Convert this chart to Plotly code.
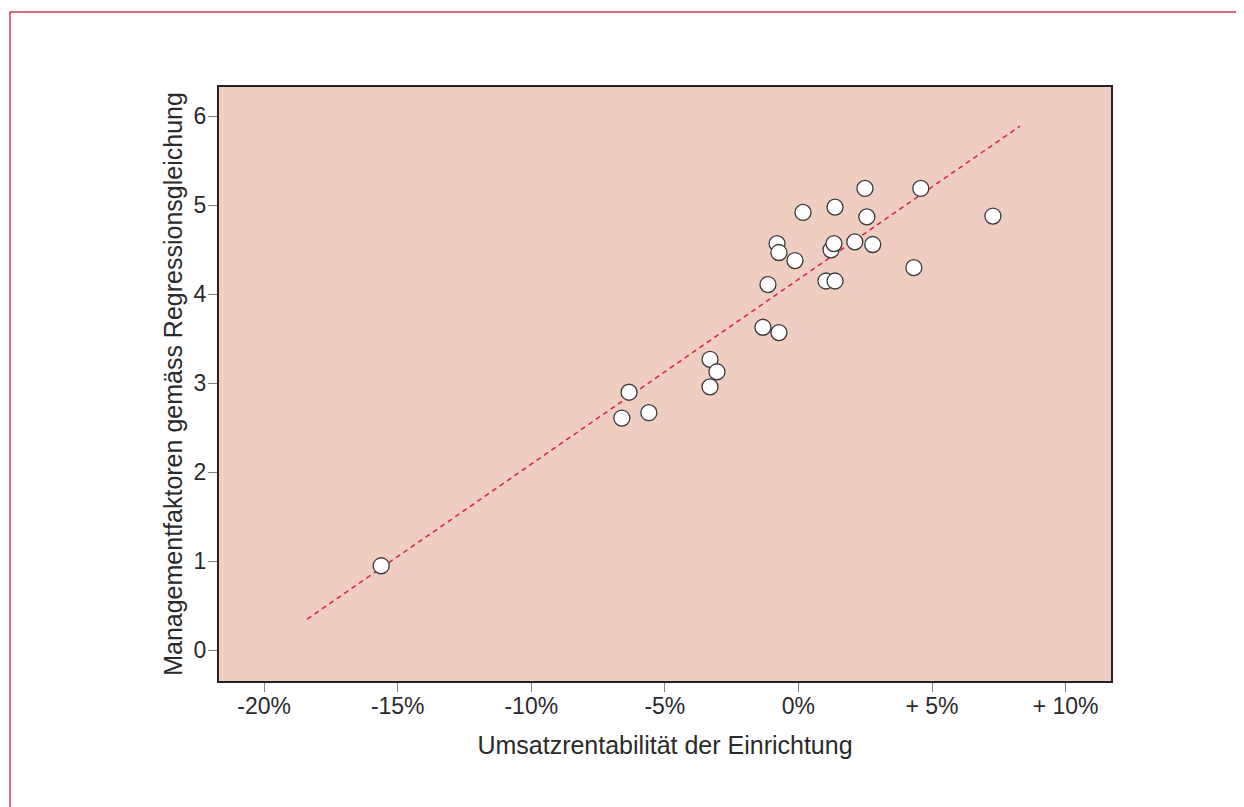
import plotly.graph_objects as go

# Data
umsatzrendite = [-15.62, -6.34, -6.61, -5.60, -3.31, -3.05, -3.31, -1.33, -0.73,
                 -1.14, -0.80, -0.73, -0.13, 0.17, 1.22, 1.33, 1.03, 1.37, 1.37,
                 2.11, 2.49, 2.56, 2.78, 4.32, 4.58, 7.28]
managementfaktoren = [0.95, 2.90, 2.61, 2.67, 3.27, 3.13, 2.96, 3.63, 3.57,
                      4.11, 4.57, 4.47, 4.38, 4.92, 4.50, 4.57, 4.15, 4.15, 4.98,
                      4.59, 5.19, 4.87, 4.56, 4.30, 5.19, 4.88]
regression_x = [-18.39, 8.29]
regression_y = [0.35, 5.89]

x_tickvals = [-20, -15, -10, -5, 0, 5, 10]
x_ticktext = ["-20%", "-15%", "-10%", "-5%", "0%", "+ 5%", "+ 10%"]
y_tickvals = [0, 1, 2, 3, 4, 5, 6]

FONT = "Liberation Sans, Arial, Helvetica, sans-serif"
TEXT = "#2a2a2a"

fig = go.Figure()
fig.add_trace(go.Scatter(
    x=regression_x, y=regression_y, mode="lines",
    line=dict(color="#d4263f", width=1.5, dash="5px,4px"),
    hoverinfo="skip", showlegend=False))
fig.add_trace(go.Scatter(
    x=umsatzrendite, y=managementfaktoren, mode="markers",
    marker=dict(size=16, color="white", line=dict(color="#3a3a3a", width=1.3)),
    showlegend=False))

fig.update_layout(
    width=1236, height=799,
    margin=dict(l=211, r=133, t=79, b=126),
    paper_bgcolor="white", plot_bgcolor="#f0cdc1",
    font=dict(family=FONT, color=TEXT, size=23),
    showlegend=False,
    shapes=[
        dict(type="line", xref="paper", yref="paper",
             x0=-0.2343, x1=1.5, y0=1.1263, y1=1.1263,
             line=dict(color="#d6374f", width=1.5)),
        dict(type="line", xref="paper", yref="paper",
             x0=-0.2343, x1=-0.2343, y0=1.1263, y1=-0.5,
             line=dict(color="#d6374f", width=1.5)),
    ],
)
fig.update_xaxes(
    range=[-21.69, 11.70], tickvals=x_tickvals, ticktext=x_ticktext,
    showgrid=False, zeroline=False,
    showline=True, linecolor="#222222", linewidth=2, mirror=True,
    ticks="outside", ticklen=9, tickcolor="#808080", tickwidth=1,
    tickfont=dict(size=23, color=TEXT), ticklabelstandoff=-6,
    title=dict(text="Umsatzrentabilität der Einrichtung", font=dict(size=25, color=TEXT), standoff=19),
)
fig.update_yaxes(
    range=[-0.345, 6.33], tickvals=y_tickvals,
    showgrid=False, zeroline=False,
    showline=True, linecolor="#222222", linewidth=2, mirror=True,
    ticks="outside", ticklen=9, tickcolor="#808080", tickwidth=1,
    tickfont=dict(size=23, color=TEXT), ticklabelstandoff=-3,
    title=dict(text="Managementfaktoren gemäss Regressionsgleichung", font=dict(size=25, color=TEXT), standoff=4),
)

fig.write_html("out.html")
